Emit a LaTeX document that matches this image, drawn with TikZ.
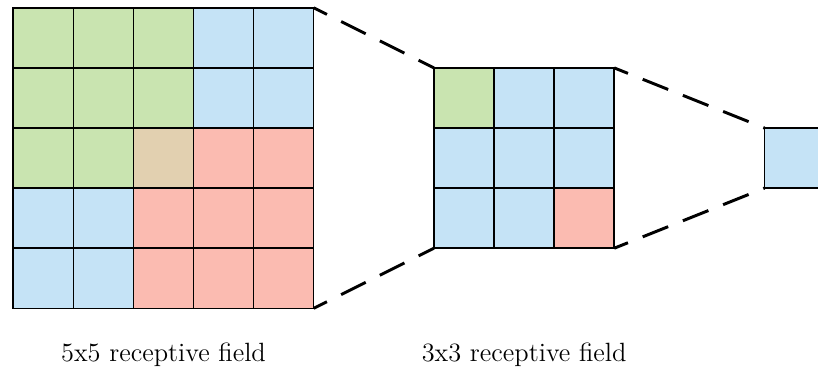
\documentclass[tikz,border=0pt]{standalone}
\usetikzlibrary{positioning}

\definecolor{cellgreen}{RGB}{201,228,176}
\definecolor{cellblue}{RGB}{197,227,246}
\definecolor{cellred}{RGB}{251,187,177}
\definecolor{celltan}{RGB}{226,208,176}

\tikzset{
  field/.style={draw, line width=0.7pt, inner sep=0pt, outer sep=0pt, anchor=north west},
  link/.style={line width=1.4pt, dash pattern=on 13pt off 7.5pt, dash phase=6pt},
  caption/.style={anchor=base, font=\fontsize{12.5}{15}\selectfont}
}

\begin{document}
\begin{tikzpicture}[line width=0.7pt]
  \clip (-0.22,0.13) rectangle (13.39,-6.09);
  % 5x5 field
  \fill[cellgreen] (0,0) rectangle (3,-3);
  \fill[celltan] (2,-2) rectangle (3,-3);
  \fill[cellblue] (3,0) rectangle (5,-2);
  \fill[cellblue] (0,-3) rectangle (2,-5);
  \fill[cellred] (3,-2) rectangle (5,-3);
  \fill[cellred] (2,-3) rectangle (5,-5);
  \draw (0,-5) grid (5,0);
  \node[field, minimum size=5cm] (field5) at (0,0) {};
  % 3x3 field
  \fill[cellblue] (7,-1) rectangle (10,-4);
  \fill[cellgreen] (7,-1) rectangle (8,-2);
  \fill[cellred] (9,-3) rectangle (10,-4);
  \draw (7,-4) grid (10,-1);
  \node[field, minimum size=3cm] (field3) at (7,-1) {};
  % single output cell
  \node[field, fill=cellblue, minimum size=1cm] (field1) at (12.5,-2) {};
  %dashed projections
  \draw[link] (field5.north east) -- (field3.north west);
  \draw[link] (field5.south east) -- (field3.south west);
  \draw[link] (field3.north east) -- (field1.north west);
  \draw[link] (field3.south east) -- (field1.south west);
  \node[caption] (cap5) at (2.5,-5.89) {5x5 receptive field};
  \node[caption] (cap3) at (8.5,-5.89) {3x3 receptive field};
\end{tikzpicture}
\end{document}
